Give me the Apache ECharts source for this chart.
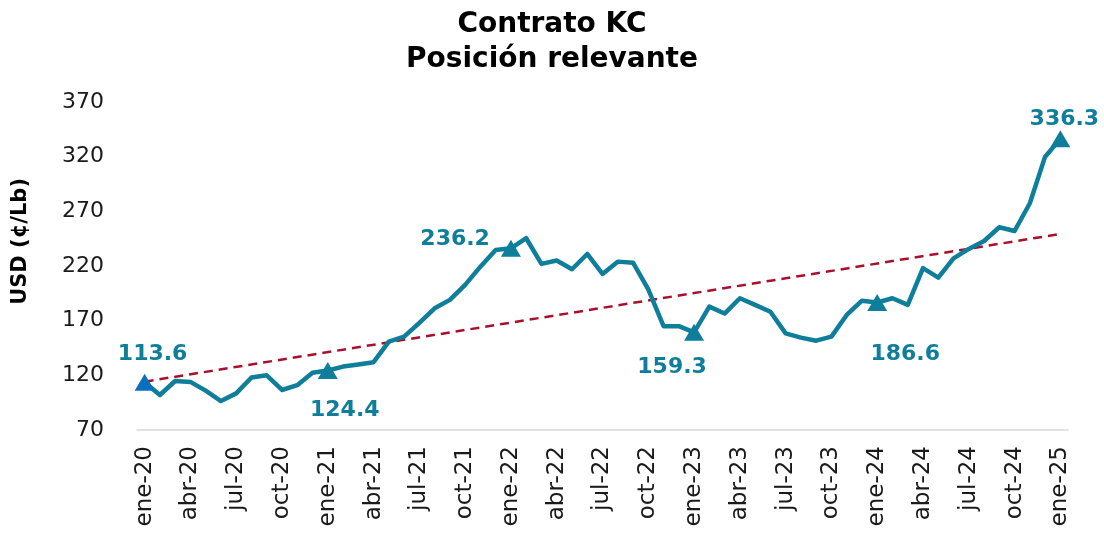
<!DOCTYPE html>
<html>
<head>
<meta charset="utf-8">
<script src="https://cdn.jsdelivr.net/npm/echarts@6/dist/echarts.min.js"></script>
<style>
  html, body { margin: 0; padding: 0; background: #fff; }
  #chart { width: 1104px; height: 533px; }
</style>
</head>
<body>
<div id="chart"></div>
<script>
// months ene-20 .. ene-25
const monthNames = ['ene', 'feb', 'mar', 'abr', 'may', 'jun', 'jul', 'ago', 'sep', 'oct', 'nov', 'dic'];
const categories = [];
for (let y = 20; y <= 25; y++) {
  for (let m = 0; m < 12; m++) {
    if (y === 25 && m > 0) break;
    categories.push(monthNames[m] + '-' + y);
  }
}

// precio posicion relevante (USD c/Lb)
const prices = [
  113.6, 102.0, 114.8, 114.0, 106.0, 96.5, 103.5, 118.0, 120.0, 106.6, 111.0, 122.4,
  124.4, 128.0, 130.0, 132.0, 150.8, 155.4, 168.0, 181.3, 189.0, 202.7, 219.4, 234.7,
  236.2, 245.4, 221.9, 225.0, 217.0, 231.0, 212.7, 224.0, 223.0, 198.7, 165.0, 165.0,
  159.3, 182.8, 176.5, 190.5, 184.4, 178.2, 158.4, 154.5, 151.7, 155.4, 175.2, 188.3,
  186.6, 190.5, 184.4, 218.0, 209.4, 227.0, 235.6, 242.9, 255.4, 252.0, 277.4, 320.0,
  336.3
];

// puntos resaltados (indices de mes)
const highlightIdx = [0, 12, 24, 36, 48, 60];

// tendencia: valores en primer y ultimo mes
const trendEnds = [114.2, 249.3];

const yTicks = { min: 70, max: 370, interval: 50 };

const teal = '#0F7E9B';
const labelPos = {
  0: { position: 'top', offset: [8, -4] },
  12: { position: 'bottom', offset: [17, 15] },
  24: { position: 'left', offset: [-6, -9] },
  36: { position: 'bottom', offset: [-22, 10] },
  48: { position: 'bottom', offset: [28, 27] },
  60: { position: 'top', offset: [4, 5] }
};

const markers = highlightIdx.map(i => ({
  value: [categories[i], prices[i]],
  itemStyle: { color: i === 0 ? '#0A70BE' : teal, opacity: 1 },
  label: Object.assign({
    show: true,
    formatter: prices[i].toFixed(1),
    color: teal,
    fontSize: 22,
    fontWeight: 'bold',
    fontFamily: 'DejaVu Sans'
  }, labelPos[i])
}));

const chart = echarts.init(document.getElementById('chart'));
chart.setOption({
  animation: false,
  title: {
    text: 'Contrato KC\nPosición relevante',
    left: 'center',
    top: 2,
    textStyle: {
      fontFamily: 'DejaVu Sans',
      fontWeight: 'bold',
      fontSize: 28,
      lineHeight: 35,
      color: '#000'
    }
  },
  graphic: [{
    type: 'text',
    left: 10,
    top: 178,
    rotation: Math.PI / 2,
    style: {
      text: 'USD (¢/Lb)',
      fontFamily: 'DejaVu Sans',
      fontWeight: 'bold',
      fontSize: 21,
      fill: '#000'
    }
  }],
  grid: { left: 137, right: 36, top: 102, bottom: 103 },
  xAxis: {
    type: 'category',
    data: categories,
    boundaryGap: true,
    axisLine: { lineStyle: { color: '#d9d9d9', width: 1.5 } },
    axisTick: { interval: 2, length: 8, lineStyle: { color: '#d9d9d9', width: 1.5 } },
    axisLabel: {
      interval: 2,
      rotate: 90,
      margin: 16,
      fontSize: 23,
      color: '#1a1a1a',
      fontFamily: 'DejaVu Sans'
    }
  },
  yAxis: {
    type: 'value',
    min: yTicks.min,
    max: yTicks.max,
    interval: yTicks.interval,
    axisLine: { show: false },
    axisTick: { show: false },
    splitLine: { show: false },
    axisLabel: { fontSize: 22, color: '#1a1a1a', margin: 33, fontFamily: 'DejaVu Sans' }
  },
  series: [
    {
      type: 'line',
      data: [[categories[0], trendEnds[0]], [categories[categories.length - 1], trendEnds[1]]],
      symbol: 'none',
      lineStyle: { color: '#A8102E', width: 2.5, type: [9, 6] },
      z: 3
    },
    {
      type: 'line',
      data: prices,
      symbol: 'none',
      lineStyle: { color: teal, width: 4.5, join: 'round' },
      z: 4
    },
    {
      type: 'scatter',
      data: markers,
      symbol: 'triangle',
      symbolSize: [20, 17],
      z: 5
    }
  ]
});
</script>
</body>
</html>
